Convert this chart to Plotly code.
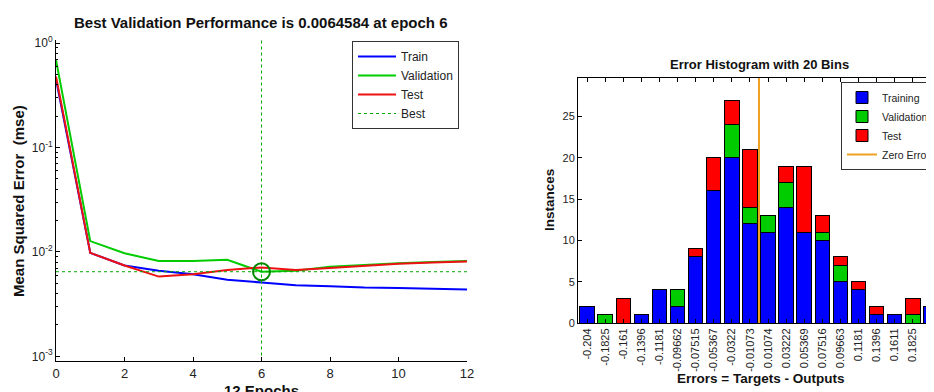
import plotly.graph_objects as go

# ---------------- data ----------------
epochs = [0, 1, 2, 3, 4, 5, 6, 7, 8, 9, 10, 11, 12]
train_mse = [0.45, 0.0098, 0.0074, 0.0066, 0.0061, 0.0054, 0.0051, 0.0048, 0.0047, 0.00455, 0.0045, 0.0044, 0.00436]
val_mse = [0.69, 0.0127, 0.0097, 0.0082, 0.0082, 0.0084, 0.0064584, 0.0066, 0.0072, 0.0075, 0.0078, 0.0080, 0.0082]
test_mse = [0.48, 0.0098, 0.0074, 0.0058, 0.0061, 0.0067, 0.0071, 0.0067, 0.0070, 0.0074, 0.0077, 0.0079, 0.0081]
best_epoch = 6
best_perf = 0.0064584

bin_labels = ["-0.204", "-0.1825", "-0.161", "-0.1396", "-0.1181", "-0.09662", "-0.07515",
              "-0.05367", "-0.0322", "-0.01073", "0.01074", "0.03222", "0.05369", "0.07516",
              "0.09663", "0.1181", "0.1396", "0.1611", "0.1825", "0.204"]
hist_train = [2, 0, 0, 1, 4, 2, 8, 16, 20, 12, 11, 14, 11, 10, 5, 4, 1, 1, 0, 2]
hist_val = [0, 1, 0, 0, 0, 2, 0, 0, 4, 2, 2, 3, 0, 1, 2, 0, 0, 0, 1, 0]
hist_test = [0, 0, 3, 0, 0, 0, 1, 4, 3, 7, 0, 2, 8, 2, 1, 1, 1, 0, 2, 0]

# ---------------- layout helpers ----------------
OFF = 8            # page body margin of the browser
W, H = 934 - OFF, 392 - OFF
ML = 56 - OFF
PW = W - ML


def px_x(p):
    return (p - OFF - ML) / PW


def px_y(p):
    return 1 - (p - OFF) / H


FONT = "Liberation Sans, Arial, sans-serif"
BLUE = "#0000FF"
GREEN = "#00CC00"
RED = "#FF0000"
DOT = "#00AA00"

fig = go.Figure()

# ---- left: performance ----
fig.add_trace(go.Scatter(x=epochs, y=train_mse, mode="lines", name="Train",
                         line=dict(color=BLUE, width=2), xaxis="x", yaxis="y", legend="legend"))
fig.add_trace(go.Scatter(x=epochs, y=val_mse, mode="lines", name="Validation",
                         line=dict(color=GREEN, width=2), xaxis="x", yaxis="y", legend="legend"))
fig.add_trace(go.Scatter(x=epochs, y=test_mse, mode="lines", name="Test",
                         line=dict(color="#EE1111", width=2), xaxis="x", yaxis="y", legend="legend"))
fig.add_trace(go.Scatter(x=[epochs[0], epochs[-1]], y=[best_perf, best_perf], mode="lines", name="Best",
                         line=dict(color=DOT, width=1, dash="dot"), xaxis="x", yaxis="y",
                         legend="legend"))
fig.add_trace(go.Scatter(x=[best_epoch, best_epoch], y=[10 ** -3.05, 10 ** 0.05], mode="lines",
                         line=dict(color=DOT, width=1, dash="dot"), xaxis="x", yaxis="y",
                         showlegend=False))
fig.add_trace(go.Scatter(x=[best_epoch], y=[best_perf], mode="markers",
                         marker=dict(symbol="circle-open", size=17, color="#008800", line=dict(width=2)),
                         xaxis="x", yaxis="y", showlegend=False))

# ---- right: histogram ----
idx = list(range(len(bin_labels)))
for name, vals, col in [("Training", hist_train, BLUE), ("Validation", hist_val, GREEN),
                        ("Test", hist_test, RED)]:
    fig.add_trace(go.Bar(x=idx, y=vals, name=name, marker=dict(color=col, line=dict(color="black", width=1)),
                         width=0.8, xaxis="x2", yaxis="y2", legend="legend2"))

centers = [float(v) for v in bin_labels]
i0 = max(i for i, c in enumerate(centers) if c <= 0)
zero_x = i0 + (0 - centers[i0]) / (centers[i0 + 1] - centers[i0])
fig.add_trace(go.Scatter(x=[zero_x, zero_x], y=[0, 29.7], mode="lines", name="Zero Error",
                         line=dict(color="#F0A020", width=2), xaxis="x2", yaxis="y2", legend="legend2"))

tickfont = dict(family=FONT, size=12, color="#222")


def ann(text, x, y, size, angle=0):
    return dict(text=text, x=px_x(x), y=px_y(y), xref="paper", yref="paper", xanchor="center",
                yanchor="middle", textangle=angle, showarrow=False,
                font=dict(family=FONT, size=size, color="#111"))


fig.update_layout(
    width=W, height=H,
    margin=dict(l=ML, r=0, t=0, b=0, autoexpand=False),
    paper_bgcolor="white", plot_bgcolor="white",
    barmode="stack",
    font=dict(family=FONT, color="#111"),
    xaxis=dict(domain=[px_x(56), px_x(467)], anchor="y", range=[0, 12], tickvals=[0, 2, 4, 6, 8, 10, 12],
               showline=True, linecolor="black", linewidth=1, ticks="inside", ticklen=4, tickcolor="black",
               showgrid=False, zeroline=False, tickfont=dict(family=FONT, size=13, color="#222")),
    yaxis=dict(domain=[px_y(361), px_y(40)], anchor="x", type="log", range=[-3.045, 0.03],
               tickvals=[1, 0.1, 0.01, 0.001],
               ticktext=["10<sup>0</sup>", "10<sup>-1</sup>", "10<sup>-2</sup>", "10<sup>-3</sup>"],
               showline=True, linecolor="black", linewidth=1, ticks="inside", ticklen=4, tickcolor="black",
               minor=dict(ticks="inside", ticklen=2, tickcolor="black", dtick="D1"),
               showgrid=False, zeroline=False, tickfont=tickfont),
    xaxis2=dict(domain=[px_x(578), 1], anchor="y2", range=[-0.5, 19.17], tickvals=idx, ticktext=bin_labels,
                tickangle=-90, showline=True, linecolor="black", linewidth=1, mirror="ticks",
                ticks="inside", ticklen=4, tickcolor="black", showgrid=False, zeroline=False,
                tickfont=dict(family=FONT, size=11, color="#222")),
    yaxis2=dict(domain=[px_y(323), px_y(77.7)], anchor="x2", range=[0, 29.7], tickvals=[0, 5, 10, 15, 20, 25],
                showline=True, linecolor="black", linewidth=1, mirror="ticks", ticks="inside", ticklen=4,
                tickcolor="black", showgrid=False, zeroline=False, tickfont=dict(family=FONT, size=11, color="#222")),
    legend=dict(x=px_x(352), y=px_y(41), xanchor="left", yanchor="top", bgcolor="white",
                bordercolor="#333", borderwidth=1, font=dict(family=FONT, size=12, color="#222"),
                tracegroupgap=0, itemwidth=38, traceorder="normal"),
    legend2=dict(x=px_x(841), y=px_y(82), xanchor="left", yanchor="top", bgcolor="white",
                 bordercolor="#333", borderwidth=1, font=dict(family=FONT, size=10.5, color="#222"),
                 tracegroupgap=0, itemwidth=30, traceorder="normal"),
    annotations=[
        ann("<b>Best Validation Performance is 0.0064584 at epoch 6</b>", 261, 22, 15),
        ann("<b>12 Epochs</b>", 261, 390, 15),
        ann("<b>Mean Squared Error  (mse)</b>", 18, 201, 15, -90),
        ann("<b>Error Histogram with 20 Bins</b>", 759, 64, 13),
        ann("<b>Errors = Targets - Outputs</b>", 760, 378, 13.5),
        ann("<b>Instances</b>", 549, 200, 13.5, -90),
    ],
)

fig.write_html("out.html")
